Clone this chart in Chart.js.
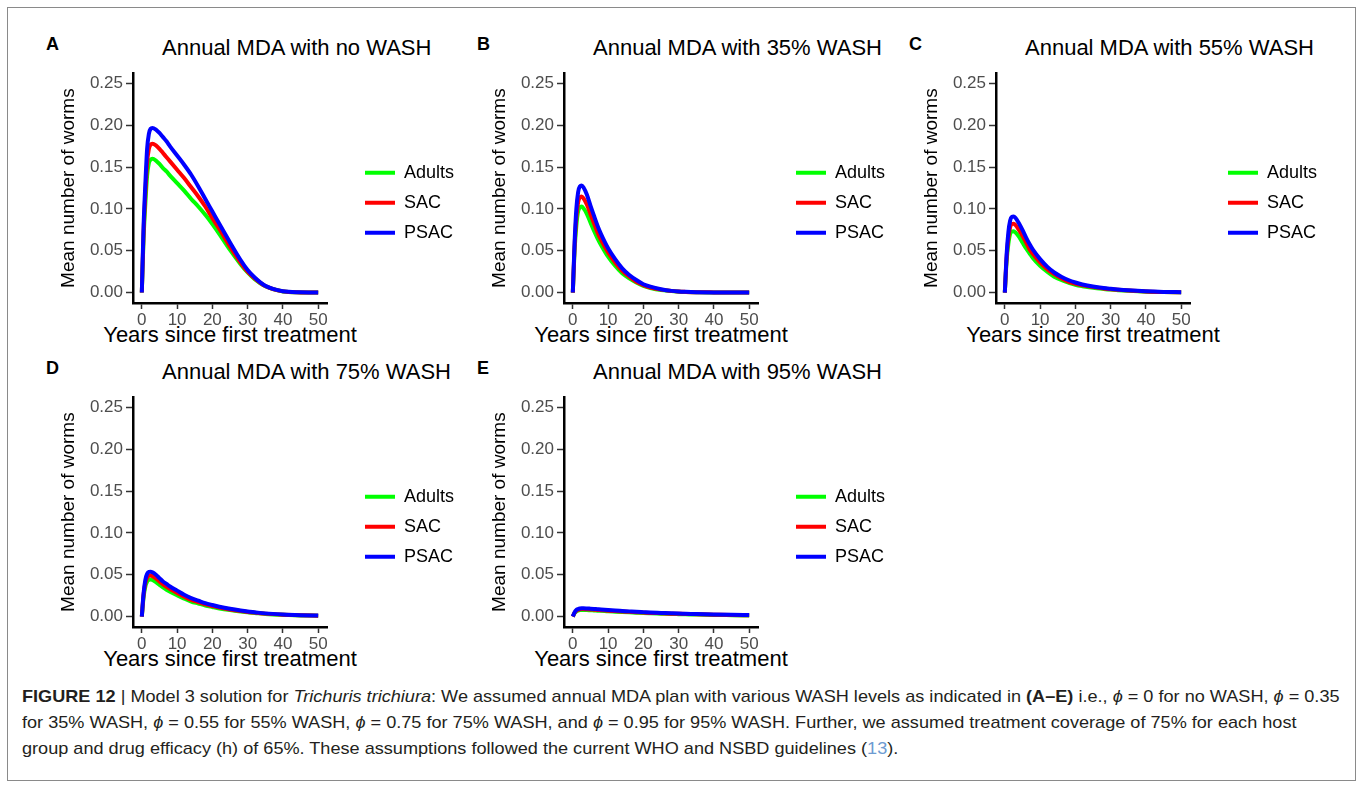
<!DOCTYPE html>
<html>
<head>
<meta charset="utf-8">
<script src="https://cdn.jsdelivr.net/npm/chart.js@4.4.1/dist/chart.umd.min.js"></script>
<style>
  body { margin: 0; background: #fff; width: 1363px; height: 787px; position: relative; overflow: hidden;
         font-family: "Liberation Sans", Arial, sans-serif; }
  #frame { position: absolute; left: 7px; top: 7px; width: 1347px; height: 772px; border: 1px solid #8a8a8a; }
  .letter { position: absolute; font-weight: bold; font-size: 18px; line-height: 18px; color: #000; }
  .ptitle { position: absolute; font-size: 22px; line-height: 22px; color: #000; white-space: nowrap; }
  .xtitle { position: absolute; width: 300px; text-align: center; font-size: 22px; line-height: 22px; color: #000; white-space: nowrap; }
  canvas { position: absolute; }
  #caption { position: absolute; left: 22px; top: 684px; display: inline-block; font-size: 17px; line-height: 26px;
             color: #231f20; white-space: nowrap; transform-origin: 0 0; }
  #caption .ref { color: #6d9bd1; }
</style>
</head>
<body>
<div id="frame"></div>
<div id="caption">
  <div><b>FIGURE 12</b> | Model 3 solution for <i>Trichuris trichiura</i>: We assumed annual MDA plan with various WASH levels as indicated in <b>(A–E)</b> i.e., <i>ϕ</i> = 0 for no WASH, <i>ϕ</i> = 0.35</div>
  <div>for 35% WASH, <i>ϕ</i> = 0.55 for 55% WASH, <i>ϕ</i> = 0.75 for 75% WASH, and <i>ϕ</i> = 0.95 for 95% WASH. Further, we assumed treatment coverage of 75% for each host</div>
  <div>group and drug efficacy (h) of 65%. These assumptions followed the current WHO and NSBD guidelines (<span class="ref">13</span>).</div>
</div>
<script>
// years since first treatment (shared by every panel)
const years = [0, 0.5, 1, 1.5, 2, 2.5, 3, 4, 5, 6, 7, 8, 10, 12, 14, 16, 18, 20, 22, 25, 28, 30, 32, 35, 40, 45, 50];

const groups = ['Adults', 'SAC', 'PSAC'];
const panelLetters = ['A', 'B', 'C', 'D', 'E'];
const panelTitles = ['Annual MDA with no WASH', 'Annual MDA with 35% WASH', 'Annual MDA with 55% WASH',
                     'Annual MDA with 75% WASH', 'Annual MDA with 95% WASH'];
const xTitle = 'Years since first treatment';
const yTitle = 'Mean number of worms';
const xTicks = [0, 10, 20, 30, 40, 50];
const yTicks = [0, 0.05, 0.10, 0.15, 0.20, 0.25];

// A - no WASH
const adultsA = [0, 0.065, 0.106, 0.140, 0.155, 0.159, 0.160, 0.158, 0.154, 0.149, 0.145, 0.140, 0.131, 0.122, 0.112, 0.103, 0.093, 0.082, 0.070, 0.051, 0.034, 0.024, 0.016, 0.0075, 0.0013, 0.0002, 0];
const sacA    = [0, 0.072, 0.118, 0.155, 0.172, 0.177, 0.178, 0.176, 0.172, 0.167, 0.162, 0.157, 0.147, 0.137, 0.126, 0.115, 0.103, 0.089, 0.076, 0.055, 0.036, 0.025, 0.017, 0.0078, 0.0014, 0.0002, 0];
const psacA   = [0, 0.080, 0.130, 0.172, 0.190, 0.196, 0.197, 0.195, 0.191, 0.186, 0.181, 0.175, 0.164, 0.153, 0.141, 0.127, 0.112, 0.097, 0.082, 0.060, 0.039, 0.027, 0.018, 0.008, 0.0015, 0.0003, 0];
// B - 35% WASH
const adultsB = [0, 0.050, 0.080, 0.097, 0.102, 0.103, 0.101, 0.094, 0.084, 0.074, 0.065, 0.057, 0.043, 0.032, 0.023, 0.017, 0.012, 0.008, 0.0055, 0.003, 0.0018, 0.001, 0.0007, 0.0004, 0.0001, 0.0001, 0];
const sacB    = [0, 0.055, 0.090, 0.108, 0.114, 0.115, 0.113, 0.105, 0.094, 0.083, 0.072, 0.063, 0.048, 0.036, 0.026, 0.019, 0.013, 0.009, 0.006, 0.0035, 0.002, 0.0012, 0.0008, 0.0004, 0.0002, 0.0001, 0];
const psacB   = [0, 0.060, 0.100, 0.120, 0.127, 0.128, 0.126, 0.117, 0.104, 0.092, 0.080, 0.070, 0.053, 0.040, 0.029, 0.021, 0.015, 0.010, 0.007, 0.004, 0.002, 0.0013, 0.0009, 0.0005, 0.0002, 0.0001, 0];
// C - 55% WASH
const adultsC = [0, 0.037, 0.058, 0.070, 0.073, 0.0734, 0.072, 0.067, 0.060, 0.053, 0.047, 0.041, 0.032, 0.025, 0.019, 0.015, 0.012, 0.0093, 0.0076, 0.0057, 0.0043, 0.0035, 0.0029, 0.0021, 0.0011, 0.0006, 0.0003];
const sacC    = [0, 0.041, 0.065, 0.078, 0.082, 0.0824, 0.081, 0.075, 0.068, 0.060, 0.052, 0.046, 0.036, 0.028, 0.022, 0.017, 0.013, 0.0105, 0.0086, 0.0065, 0.0049, 0.004, 0.0033, 0.0024, 0.0013, 0.0007, 0.0004];
const psacC   = [0, 0.045, 0.072, 0.086, 0.0905, 0.091, 0.0895, 0.083, 0.075, 0.066, 0.058, 0.051, 0.040, 0.031, 0.024, 0.019, 0.015, 0.012, 0.0097, 0.0072, 0.0054, 0.0045, 0.0037, 0.0027, 0.0015, 0.0008, 0.0005];
// D - 75% WASH
const adultsD = [0, 0.023, 0.036, 0.042, 0.0441, 0.0443, 0.0437, 0.0412, 0.038, 0.0348, 0.032, 0.0297, 0.0255, 0.0215, 0.018, 0.0156, 0.0132, 0.0114, 0.0097, 0.0077, 0.006, 0.005, 0.0043, 0.0032, 0.0021, 0.0014, 0.001];
const sacD    = [0, 0.026, 0.040, 0.0465, 0.0488, 0.049, 0.0484, 0.0456, 0.042, 0.0385, 0.0355, 0.033, 0.0283, 0.0238, 0.020, 0.0173, 0.0146, 0.0126, 0.0108, 0.0085, 0.0066, 0.0055, 0.0047, 0.0035, 0.0023, 0.0015, 0.0011];
const psacD   = [0, 0.028, 0.044, 0.051, 0.0535, 0.0537, 0.053, 0.050, 0.046, 0.042, 0.039, 0.036, 0.031, 0.026, 0.022, 0.019, 0.016, 0.0138, 0.0118, 0.0093, 0.0072, 0.006, 0.0051, 0.0038, 0.0025, 0.0017, 0.0012];
// E - 95% WASH
const adultsE = [0, 0.004, 0.0062, 0.0072, 0.0077, 0.0079, 0.0079, 0.0078, 0.0075, 0.0073, 0.007, 0.0068, 0.0062, 0.0058, 0.0054, 0.005, 0.0046, 0.0042, 0.0039, 0.0035, 0.0031, 0.0029, 0.0027, 0.0024, 0.002, 0.0017, 0.0014];
const sacE    = [0, 0.0045, 0.007, 0.0081, 0.0087, 0.0089, 0.0089, 0.0087, 0.0085, 0.0082, 0.0079, 0.0076, 0.007, 0.0065, 0.006, 0.0056, 0.0052, 0.0048, 0.0044, 0.004, 0.0035, 0.0033, 0.0031, 0.0027, 0.0023, 0.0019, 0.0016];
const psacE   = [0, 0.005, 0.0078, 0.009, 0.0097, 0.0099, 0.0099, 0.0097, 0.0094, 0.0091, 0.0088, 0.0085, 0.0078, 0.0072, 0.0067, 0.0062, 0.0057, 0.0053, 0.0049, 0.0044, 0.0039, 0.0036, 0.0034, 0.003, 0.0025, 0.0021, 0.0018];

const panelSeries = [
  [adultsA, sacA, psacA],
  [adultsB, sacB, psacB],
  [adultsC, sacC, psacC],
  [adultsD, sacD, psacD],
  [adultsE, sacE, psacE]
];

const colours = ['#00ff00', '#ff0000', '#0000ff'];
// canvas top-left corner of each panel (chart area sits 93px right, 10px down, 194x233)
const spots = [[40, 60], [471, 60], [903, 60], [40, 384], [471, 384]];

Chart.defaults.font.family = '"Liberation Sans", Arial, sans-serif';

function addText(cls, txt, left, top) {
  const d = document.createElement('div');
  d.className = cls;
  d.textContent = txt;
  d.style.left = left + 'px';
  d.style.top = top + 'px';
  document.body.appendChild(d);
}

spots.forEach(function(p, i) {
  const left = p[0], top = p[1];
  addText('letter', panelLetters[i], left + 6, top - 25);
  addText('ptitle', panelTitles[i], left + 122, top - 22.6);
  addText('xtitle', xTitle, left + 93 + 97 - 150, top + 264.4);

  const canvas = document.createElement('canvas');
  canvas.width = 424;
  canvas.height = 298;
  canvas.style.left = left + 'px';
  canvas.style.top = top + 'px';
  document.body.appendChild(canvas);

  const datasets = panelSeries[i].map(function(vals, k) {
    return {
      label: groups[k],
      data: years.map(function(yr, j) { return {x: yr, y: vals[j]}; }),
      borderColor: colours[k],
      backgroundColor: colours[k],
      borderWidth: 4,
      pointRadius: 0,
      cubicInterpolationMode: 'monotone',
      order: 3 - k,
      yAxisID: 'y'
    };
  });

  new Chart(canvas.getContext('2d'), {
    type: 'line',
    data: { datasets: datasets },
    options: {
      responsive: false,
      animation: false,
      layout: { padding: { left: 0, top: 10, right: 0, bottom: 0 } },
      plugins: {
        tooltip: { enabled: false },
        legend: {
          position: 'right',
          fullSize: false,
          maxWidth: 111,
          title: { display: true, text: '', font: { size: 16 }, padding: 5 },
          labels: {
            boxWidth: 30,
            boxHeight: 4,
            padding: 12,
            color: '#000',
            font: { size: 18 },
            sort: function(a, b) { return a.datasetIndex - b.datasetIndex; },
            generateLabels: function(chart) {
              return Chart.defaults.plugins.legend.labels.generateLabels(chart).map(function(l) {
                l.lineWidth = 0;
                l.fillStyle = l.strokeStyle;
                return l;
              });
            }
          }
        }
      },
      scales: {
        x: {
          type: 'linear',
          min: -2.5,
          max: 52.5,
          afterFit: function(s) { s.height = 55; },
          afterBuildTicks: function(s) { s.ticks = xTicks.map(function(v) { return {value: v}; }); },
          grid: { drawOnChartArea: false, tickLength: 6, tickColor: '#333', tickWidth: 1.5 },
          border: { color: '#000', width: 2.5 },
          ticks: { padding: 1, color: '#4d4d4d', font: { size: 17 }, maxRotation: 0 }
        },
        y: {
          type: 'linear',
          min: -0.0125,
          max: 0.2625,
          afterFit: function(s) { s.width = 93; },
          afterBuildTicks: function(s) { s.ticks = yTicks.map(function(v) { return {value: v}; }); },
          grid: { drawOnChartArea: false, tickLength: 7, tickColor: '#333', tickWidth: 1.5 },
          border: { color: '#000', width: 2.5 },
          ticks: { padding: 3, color: '#4d4d4d', font: { size: 17 }, callback: function(v) { return v.toFixed(2); } },
          title: { display: true, text: yTitle, color: '#000', font: { size: 19 }, padding: { top: 17.6, bottom: 0 } }
        },
        gap: {
          type: 'linear',
          position: 'right',
          grid: { display: false },
          border: { display: false },
          ticks: { display: false },
          afterFit: function(s) { s.width = 26; }
        }
      }
    }
  });
});

// squeeze the caption to the width of the printed caption
const cap = document.getElementById('caption');
cap.style.transform = 'scaleX(' + (1318 / cap.offsetWidth) + ')';
</script>
</body>
</html>
